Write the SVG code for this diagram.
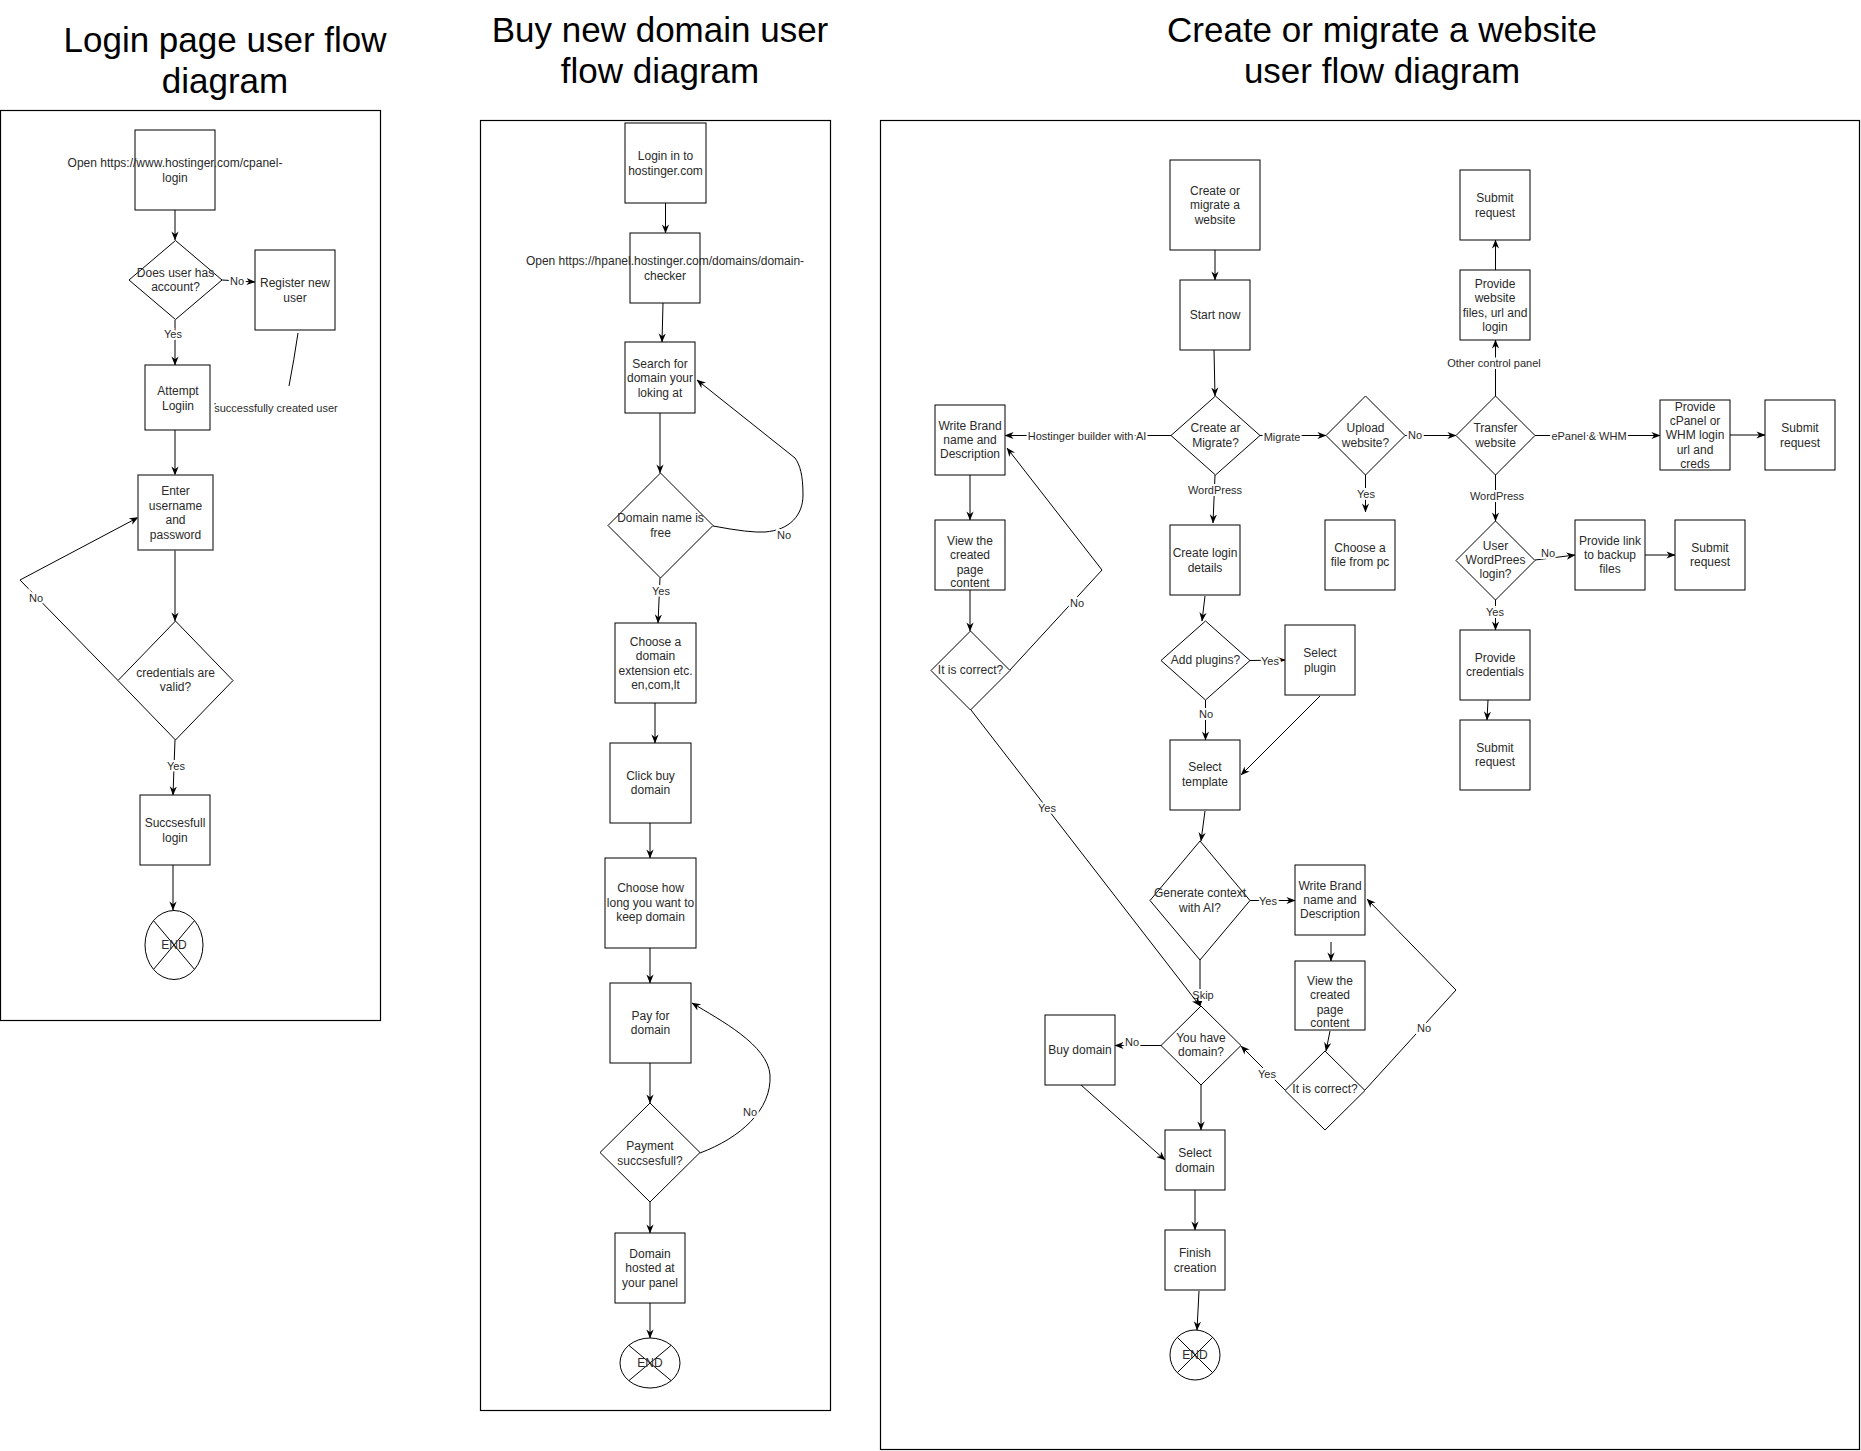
<svg xmlns="http://www.w3.org/2000/svg" width="1861" height="1451" viewBox="0 0 1861 1451">
<style>
.t{font-family:"Liberation Sans",Arial,sans-serif;font-size:35px;fill:#000;text-anchor:middle}
.n{fill:#fff;stroke:#000;stroke-width:1}
.p{fill:none;stroke:#000;stroke-width:1.2}
.x{text-anchor:middle;dominant-baseline:central;font-family:"Liberation Sans",Arial,sans-serif;font-size:12px;fill:#2a2a2a}
.l{text-anchor:middle;dominant-baseline:central;font-family:"Liberation Sans",Arial,sans-serif;font-size:11px;fill:#2a2a2a;stroke:#fff;stroke-width:4;paint-order:stroke}
.e{fill:none;stroke:#000;stroke-width:1}
.a{marker-end:url(#ah)}
</style>
<defs>
<marker id="ah" viewBox="0 0 10 10" refX="9.5" refY="5" markerWidth="9" markerHeight="9" orient="auto" markerUnits="userSpaceOnUse">
<path d="M0,1 L10,5 L0,9 L3,5 z" fill="#000"/>
</marker>
</defs>
<rect width="1861" height="1451" fill="#fff"/>

<g id="titles">
<text class="t" x="225" y="52">Login page user flow</text>
<text class="t" x="225" y="93">diagram</text>
<text class="t" x="660" y="42">Buy new domain user</text>
<text class="t" x="660" y="83">flow diagram</text>
<text class="t" x="1382" y="42">Create or migrate a website</text>
<text class="t" x="1382" y="83">user flow diagram</text>
</g>

<g id="panels">
<rect class="p" x="0.5" y="110.5" width="380" height="910"/>
<rect class="p" x="480.5" y="120.5" width="350" height="1290"/>
<rect class="p" x="880.5" y="120.5" width="979" height="1329"/>
</g>

<g id="connectors">
<!-- panel 1 -->
<path class="e a" d="M175,210 L175,240"/>
<path class="e a" d="M222,280 L255,282"/>
<text class="l" x="237" y="281">No</text>
<path class="e a" d="M175,320 L175,365"/>
<text class="l" x="173" y="334">Yes</text>
<path class="e" d="M298,333 Q294,360 289,386"/>
<path class="e" d="M215,403 L215.5,407"/>
<text class="l" x="276" y="408">successfully created user</text>
<path class="e a" d="M175,430 L175,475"/>
<path class="e a" d="M175,550 L175,621"/>
<path class="e a" d="M118,680.5 L20,580 L138,517.5"/>
<text class="l" x="36" y="598">No</text>
<path class="e a" d="M175,740 L173,795"/>
<text class="l" x="176" y="766">Yes</text>
<path class="e a" d="M173,865 L173,910"/>
<!-- panel 2 -->
<path class="e a" d="M665.5,203 L665.5,233"/>
<path class="e a" d="M663,303 L662,342"/>
<path class="e a" d="M660,413 L660,473"/>
<path class="e a" d="M713,526 Q750,533 765,532 C790,530 803,515 803,495 C803,475 800,465 795,458 L697,380"/>
<text class="l" x="784" y="535">No</text>
<path class="e a" d="M660,578 L658,623"/>
<text class="l" x="661" y="591">Yes</text>
<path class="e a" d="M655,703 L655,743"/>
<path class="e a" d="M650,823 L650,858"/>
<path class="e a" d="M650,948 L650,983"/>
<path class="e a" d="M650,1063 L650,1103"/>
<path class="e a" d="M700,1153 C740,1138 772,1110 770,1075 C768,1045 720,1020 692,1003"/>
<text class="l" x="750" y="1112">No</text>
<path class="e a" d="M650,1202 L650,1233"/>
<path class="e a" d="M650,1303 L650,1338"/>
<!-- panel 3 -->
<path class="e a" d="M1215,250 L1215,280"/>
<path class="e a" d="M1214,350 L1215,396"/>
<path class="e a" d="M1171,435.5 L1005,435.5"/>
<text class="l" x="1087" y="436">Hostinger builder with AI</text>
<path class="e a" d="M1260,435.5 L1326,435.5"/>
<text class="l" x="1282" y="437">Migrate</text>
<path class="e a" d="M1405,435.5 L1456,435.5"/>
<text class="l" x="1415" y="435">No</text>
<path class="e a" d="M1495.5,396 L1495.5,340"/>
<text class="l" x="1494" y="363">Other control panel</text>
<path class="e a" d="M1495.5,270 L1495.5,240"/>
<path class="e a" d="M1535,435.5 L1660,435.5"/>
<text class="l" x="1589" y="436">ePanel &amp; WHM</text>
<path class="e a" d="M1730,435 L1765,435"/>
<path class="e a" d="M1495.5,475 L1495.5,521"/>
<text class="l" x="1497" y="496">WordPress</text>
<path class="e a" d="M1535,560 L1575,555"/>
<text class="l" x="1548" y="553">No</text>
<path class="e a" d="M1645,555 L1675,555"/>
<path class="e a" d="M1495.5,600 L1495.5,630"/>
<text class="l" x="1495" y="612">Yes</text>
<path class="e a" d="M1488,700 L1487,720"/>
<path class="e a" d="M1365.5,475 L1365.5,512"/>
<text class="l" x="1366" y="494">Yes</text>
<path class="e a" d="M1215,475 L1213,523"/>
<text class="l" x="1215" y="490">WordPress</text>
<path class="e a" d="M1205,596 L1202,621"/>
<path class="e a" d="M1250,660.5 L1285,660"/>
<text class="l" x="1270" y="661">Yes</text>
<path class="e a" d="M1320,696 L1241,775"/>
<path class="e a" d="M1205.5,700 L1205.5,740"/>
<text class="l" x="1206" y="714">No</text>
<path class="e a" d="M1205,811 L1201,841"/>
<path class="e a" d="M1250,900.5 L1295,900.5"/>
<text class="l" x="1268" y="901">Yes</text>
<path class="e a" d="M1331,942 L1331,961"/>
<path class="e a" d="M1330,1031 L1326,1051"/>
<path class="e a" d="M1365,1090 L1456,990 L1367,899"/>
<text class="l" x="1424" y="1028">No</text>
<path class="e a" d="M1285,1090 L1241,1046"/>
<text class="l" x="1267" y="1074">Yes</text>
<path class="e a" d="M1200,960 L1200,1006"/>
<text class="l" x="1203" y="995">Skip</text>
<path class="e a" d="M1161,1045.5 L1115,1045.5"/>
<text class="l" x="1132" y="1042">No</text>
<path class="e a" d="M1081,1085 L1165,1160"/>
<path class="e a" d="M1201,1085 L1201,1130"/>
<path class="e a" d="M1195,1190 L1195,1230"/>
<path class="e a" d="M1199,1291 L1197,1330"/>
<path class="e a" d="M970,475 L970,520"/>
<path class="e a" d="M970,590 L970,631"/>
<path class="e a" d="M1010,670 L1102,570 L1007,448"/>
<text class="l" x="1077" y="603">No</text>
<path class="e a" d="M971,710 L1200,1006"/>
<text class="l" x="1047" y="808">Yes</text>
</g>

<!-- Panel 1 nodes -->
<g id="p1-open"><rect class="n" x="135" y="130" width="80" height="80"/><text class="x" x="175" y="163">Open https://www.hostinger.com/cpanel-</text><text class="x" x="175" y="178">login</text></g>
<g id="p1-hasaccount"><polygon class="n" points="175.5,240.5 222,280 175.5,319.5 129,280"/><text class="x" x="175.5" y="273">Does user has</text><text class="x" x="175.5" y="287">account?</text></g>
<g id="p1-register"><rect class="n" x="255" y="250" width="80" height="80"/><text class="x" x="295" y="283">Register new</text><text class="x" x="295" y="298">user</text></g>
<g id="p1-attempt"><rect class="n" x="145" y="365" width="65" height="65"/><text class="x" x="178" y="391">Attempt</text><text class="x" x="178" y="406">Logiin</text></g>
<g id="p1-enter"><rect class="n" x="138" y="475" width="75" height="75" style="stroke:#555;stroke-width:1.5"/><text class="x" x="175.5" y="491">Enter</text><text class="x" x="175.5" y="506">username</text><text class="x" x="175.5" y="520">and</text><text class="x" x="175.5" y="535">password</text></g>
<g id="p1-valid"><polygon class="n" points="175.5,621 233,680.5 175.5,740 118,680.5"/><text class="x" x="175.5" y="673">credentials are</text><text class="x" x="175.5" y="687">valid?</text></g>
<g id="p1-success"><rect class="n" x="140" y="795" width="70" height="70"/><text class="x" x="175" y="823">Succsesfull</text><text class="x" x="175" y="838">login</text></g>
<g id="p1-end"><ellipse class="n" cx="174" cy="945" rx="29" ry="34.5"/><path class="e" d="M153.5,920.6 L194.5,969.4 M194.5,920.6 L153.5,969.4"/><text class="x" x="174" y="945">END</text></g>

<!-- Panel 2 nodes -->
<g id="p2-login"><rect class="n" x="625" y="123" width="81" height="80"/><text class="x" x="665.5" y="156">Login in to</text><text class="x" x="665.5" y="171">hostinger.com</text></g>
<g id="p2-open"><rect class="n" x="630" y="233" width="70" height="70"/><text class="x" x="665" y="261">Open https://hpanel.hostinger.com/domains/domain-</text><text class="x" x="665" y="276">checker</text></g>
<g id="p2-search"><rect class="n" x="625" y="342" width="70" height="71"/><text class="x" x="660" y="364">Search for</text><text class="x" x="660" y="378">domain your</text><text class="x" x="660" y="393">loking at</text></g>
<g id="p2-free"><polygon class="n" points="660.5,473 713,525.5 660.5,578 608,525.5"/><text class="x" x="660.5" y="518">Domain name is</text><text class="x" x="660.5" y="533">free</text></g>
<g id="p2-ext"><rect class="n" x="615" y="623" width="81" height="80"/><text class="x" x="655.5" y="642">Choose a</text><text class="x" x="655.5" y="656">domain</text><text class="x" x="655.5" y="671">extension etc.</text><text class="x" x="655.5" y="685">en,com,lt</text></g>
<g id="p2-click"><rect class="n" x="610" y="743" width="81" height="80"/><text class="x" x="650.5" y="776">Click buy</text><text class="x" x="650.5" y="790">domain</text></g>
<g id="p2-howlong"><rect class="n" x="605" y="858" width="91" height="90"/><text class="x" x="650.5" y="888">Choose how</text><text class="x" x="650.5" y="903">long you want to</text><text class="x" x="650.5" y="917">keep domain</text></g>
<g id="p2-pay"><rect class="n" x="610" y="983" width="81" height="80"/><text class="x" x="650.5" y="1016">Pay for</text><text class="x" x="650.5" y="1030">domain</text></g>
<g id="p2-payment"><polygon class="n" points="650,1103 700,1152.5 650,1202 600,1152.5"/><text class="x" x="650" y="1146">Payment</text><text class="x" x="650" y="1161">succsesfull?</text></g>
<g id="p2-hosted"><rect class="n" x="615" y="1233" width="70" height="70"/><text class="x" x="650" y="1254">Domain</text><text class="x" x="650" y="1268">hosted at</text><text class="x" x="650" y="1283">your panel</text></g>
<g id="p2-end"><ellipse class="n" cx="650" cy="1363" rx="30" ry="25"/><path class="e" d="M628.8,1345.3 L671.2,1380.7 M671.2,1345.3 L628.8,1380.7"/><text class="x" x="650" y="1363">END</text></g>

<!-- Panel 3 nodes -->
<g id="p3-create"><rect class="n" x="1170" y="160" width="90" height="90"/><text class="x" x="1215" y="191">Create or</text><text class="x" x="1215" y="205">migrate a</text><text class="x" x="1215" y="220">website</text></g>
<g id="p3-start"><rect class="n" x="1180" y="280" width="70" height="70"/><text class="x" x="1215" y="315">Start now</text></g>
<g id="p3-createmigrate"><polygon class="n" points="1215.5,396 1260,435.5 1215.5,475 1171,435.5"/><text class="x" x="1215.5" y="428">Create ar</text><text class="x" x="1215.5" y="443">Migrate?</text></g>
<g id="p3-brand1"><rect class="n" x="935" y="405" width="70" height="70"/><text class="x" x="970" y="426">Write Brand</text><text class="x" x="970" y="440">name and</text><text class="x" x="970" y="454">Description</text></g>
<g id="p3-view1"><rect class="n" x="935" y="520" width="70" height="70"/><text class="x" x="970" y="541">View the</text><text class="x" x="970" y="555">created</text><text class="x" x="970" y="570">page</text><text class="x" x="970" y="583">content</text></g>
<g id="p3-correct1"><polygon class="n" points="970.5,631 1010,670.5 970.5,710 931,670.5"/><text class="x" x="970.5" y="670">It is correct?</text></g>
<g id="p3-loginDetails"><rect class="n" x="1170" y="525" width="70" height="70"/><text class="x" x="1205" y="553">Create login</text><text class="x" x="1205" y="568">details</text></g>
<g id="p3-plugins"><polygon class="n" points="1205.5,621 1250,660.5 1205.5,700 1161,660.5"/><text class="x" x="1205.5" y="660">Add plugins?</text></g>
<g id="p3-selplugin"><rect class="n" x="1285" y="625" width="70" height="70"/><text class="x" x="1320" y="653">Select</text><text class="x" x="1320" y="668">plugin</text></g>
<g id="p3-template"><rect class="n" x="1170" y="740" width="70" height="70"/><text class="x" x="1205" y="767">Select</text><text class="x" x="1205" y="782">template</text></g>
<g id="p3-generate"><polygon class="n" points="1200,841 1250,900.5 1200,960 1150,900.5"/><text class="x" x="1200" y="893">Generate context</text><text class="x" x="1200" y="908">with AI?</text></g>
<g id="p3-brand2"><rect class="n" x="1295" y="865" width="70" height="70"/><text class="x" x="1330" y="886">Write Brand</text><text class="x" x="1330" y="900">name and</text><text class="x" x="1330" y="914">Description</text></g>
<g id="p3-view2"><rect class="n" x="1295" y="961" width="70" height="69"/><text class="x" x="1330" y="981">View the</text><text class="x" x="1330" y="995">created</text><text class="x" x="1330" y="1010">page</text><text class="x" x="1330" y="1023">content</text></g>
<g id="p3-correct2"><polygon class="n" points="1325,1051 1365,1090.5 1325,1130 1285,1090.5"/><text class="x" x="1325" y="1089">It is correct?</text></g>
<g id="p3-havedomain"><polygon class="n" points="1201,1006 1241,1045.5 1201,1085 1161,1045.5"/><text class="x" x="1201" y="1038">You have</text><text class="x" x="1201" y="1052">domain?</text></g>
<g id="p3-buy"><rect class="n" x="1045" y="1015" width="70" height="70"/><text class="x" x="1080" y="1050">Buy domain</text></g>
<g id="p3-seldomain"><rect class="n" x="1165" y="1130" width="60" height="60"/><text class="x" x="1195" y="1153">Select</text><text class="x" x="1195" y="1168">domain</text></g>
<g id="p3-finish"><rect class="n" x="1165" y="1230" width="60" height="60"/><text class="x" x="1195" y="1253">Finish</text><text class="x" x="1195" y="1268">creation</text></g>
<g id="p3-end"><circle class="n" cx="1195" cy="1355" r="25"/><path class="e" d="M1177.3,1337.3 L1212.7,1372.7 M1212.7,1337.3 L1177.3,1372.7"/><text class="x" x="1195" y="1355">END</text></g>
<g id="p3-upload"><polygon class="n" points="1365.5,396 1405,435.5 1365.5,475 1326,435.5"/><text class="x" x="1365.5" y="428">Upload</text><text class="x" x="1365.5" y="443">website?</text></g>
<g id="p3-choosefile"><rect class="n" x="1325" y="520" width="70" height="70"/><text class="x" x="1360" y="548">Choose a</text><text class="x" x="1360" y="562">file from pc</text></g>
<g id="p3-transfer"><polygon class="n" points="1495.5,396 1535,435.5 1495.5,475 1456,435.5"/><text class="x" x="1495.5" y="428">Transfer</text><text class="x" x="1495.5" y="443">website</text></g>
<g id="p3-provfiles"><rect class="n" x="1460" y="270" width="70" height="70"/><text class="x" x="1495" y="284">Provide</text><text class="x" x="1495" y="298">website</text><text class="x" x="1495" y="313">files, url and</text><text class="x" x="1495" y="327">login</text></g>
<g id="p3-submit1"><rect class="n" x="1460" y="170" width="70" height="70"/><text class="x" x="1495" y="198">Submit</text><text class="x" x="1495" y="213">request</text></g>
<g id="p3-cpanel"><rect class="n" x="1660" y="400" width="70" height="70"/><text class="x" x="1695" y="407">Provide</text><text class="x" x="1695" y="421">cPanel or</text><text class="x" x="1695" y="435">WHM login</text><text class="x" x="1695" y="450">url and</text><text class="x" x="1695" y="464">creds</text></g>
<g id="p3-submit2"><rect class="n" x="1765" y="400" width="70" height="70"/><text class="x" x="1800" y="428">Submit</text><text class="x" x="1800" y="443">request</text></g>
<g id="p3-wplogin"><polygon class="n" points="1495.5,521 1535,560.5 1495.5,600 1456,560.5"/><text class="x" x="1495.5" y="546">User</text><text class="x" x="1495.5" y="560">WordPrees</text><text class="x" x="1495.5" y="574">login?</text></g>
<g id="p3-backup"><rect class="n" x="1575" y="520" width="70" height="70"/><text class="x" x="1610" y="541">Provide link</text><text class="x" x="1610" y="555">to backup</text><text class="x" x="1610" y="569">files</text></g>
<g id="p3-submit3"><rect class="n" x="1675" y="520" width="70" height="70"/><text class="x" x="1710" y="548">Submit</text><text class="x" x="1710" y="562">request</text></g>
<g id="p3-creds"><rect class="n" x="1460" y="630" width="70" height="70"/><text class="x" x="1495" y="658">Provide</text><text class="x" x="1495" y="672">credentials</text></g>
<g id="p3-submit4"><rect class="n" x="1460" y="720" width="70" height="70"/><text class="x" x="1495" y="748">Submit</text><text class="x" x="1495" y="762">request</text></g>
</svg>
